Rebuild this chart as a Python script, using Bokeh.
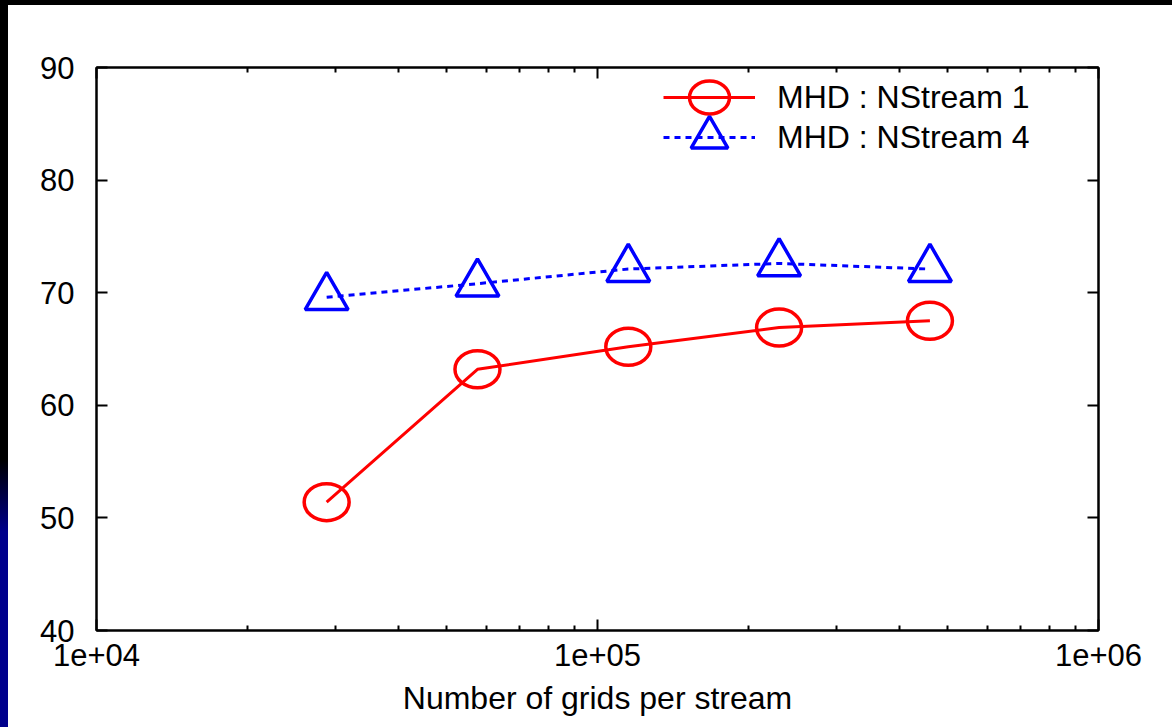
from bokeh.plotting import figure
from bokeh.models import LogAxis, LinearAxis, FixedTicker, Legend, LegendItem, Div
from bokeh.layouts import column, row
from bokeh.embed import file_html
from bokeh.resources import INLINE

# ---- data ----
grids = [28800, 57600, 115200, 230400, 460800]
nstream1 = [51.4, 63.2, 65.2, 66.9, 67.5]
nstream4 = [69.6, 70.8, 72.1, 72.6, 72.1]
series_labels = ["MHD : NStream 1", "MHD : NStream 4"]
x_ticks = [1e4, 1e5, 1e6]
x_tick_labels = ["1e+04", "1e+05", "1e+06"]
x_minor = [k * 10 ** e for e in (4, 5) for k in range(2, 10)]
y_ticks = [40, 50, 60, 70, 80, 90]
x_label = "Number of grids per stream"

FONT = "Liberation Sans"
FS = "31px"

p = figure(x_axis_type="log", x_range=(1e4, 1e6), y_range=(40, 90),
           frame_width=1002, frame_height=563,
           min_border_left=88, min_border_right=74, min_border_top=62, min_border_bottom=97,
           output_backend="svg", toolbar_location=None, margin=0)
p.background_fill_color = "white"
p.border_fill_color = "white"
p.outline_line_color = "black"
p.outline_line_width = 2
p.grid.visible = False

bottom_axis = p.below[0]
left_axis = p.left[0]

xt = FixedTicker(ticks=x_ticks, minor_ticks=x_minor)
yt = FixedTicker(ticks=y_ticks, minor_ticks=[])

top_axis = LogAxis()
right_axis = LinearAxis()
p.add_layout(top_axis, "above")
p.add_layout(right_axis, "right")

for ax in [bottom_axis, top_axis]:
    ax.ticker = xt
for ax in [left_axis, right_axis]:
    ax.ticker = yt

for ax in [bottom_axis, top_axis, left_axis, right_axis]:
    ax.axis_line_width = 2
    ax.axis_line_color = "black"
    ax.major_tick_line_width = 2
    ax.major_tick_line_color = "black"
    ax.major_tick_in = 11
    ax.major_tick_out = 0
    ax.minor_tick_line_width = 2
    ax.minor_tick_line_color = "black"
    ax.minor_tick_in = 5
    ax.minor_tick_out = 0
    ax.major_label_text_font = FONT
    ax.major_label_text_font_size = FS
    ax.major_label_text_color = "black"

bottom_axis.major_label_overrides = {t: l for t, l in zip(x_ticks, x_tick_labels)}
bottom_axis.major_label_standoff = 13
bottom_axis.axis_label = x_label
bottom_axis.axis_label_text_font = FONT
bottom_axis.axis_label_text_font_size = "32px"
bottom_axis.axis_label_text_font_style = "normal"
bottom_axis.axis_label_text_color = "black"
bottom_axis.axis_label_standoff = 11
left_axis.major_label_standoff = 22

for ax, ticks in [(top_axis, x_ticks), (right_axis, y_ticks)]:
    ax.major_label_overrides = {t: "" for t in ticks}
    ax.major_label_text_font_size = "0px"
    ax.major_label_standoff = 0

red_line = p.line(grids, nstream1, line_color="#ff0000", line_width=3)
red_mk = p.ellipse(grids, nstream1, width=45, height=37, width_units="screen",
                   height_units="screen", fill_color=None, line_color="#ff0000", line_width=3.5)
blue_line = p.line(grids, nstream4, line_color="#0000ff", line_width=3, line_dash="6 5")
blue_mk = p.scatter(grids, nstream4, marker="triangle", size=43, fill_color=None,
                    line_color="#0000ff", line_width=3.5)

common = dict(glyph_width=92, label_standoff=22, label_text_font=FONT, label_text_font_size="32px",
              label_text_color="black", border_line_color=None, background_fill_alpha=0,
              padding=0, margin=0, spacing=0)
leg1 = Legend(items=[LegendItem(label=series_labels[0], renderers=[red_line, red_mk])],
              location=(567, 508), glyph_height=50, **common)
leg2 = Legend(items=[LegendItem(label=series_labels[1], renderers=[blue_line, blue_mk])],
              location=(567, 447), glyph_height=92, **common)
p.add_layout(leg1)
p.add_layout(leg2)

top_band = Div(width=1172, height=5, margin=0, styles={"background-color": "black"})
left_band = Div(width=8, height=722, margin=0, styles={
    "background": "linear-gradient(to bottom, #000000 0%, #000000 63%, #00008c 73%, #00008c 100%)"})
layout = column(top_band, row(left_band, p, margin=0, spacing=0), margin=0, spacing=0)

html = file_html(layout, INLINE)
html = html.replace("<head>", "<head><style>html, body { margin: 0; padding: 0; }</style>", 1)
open("out.html", "w").write(html)
